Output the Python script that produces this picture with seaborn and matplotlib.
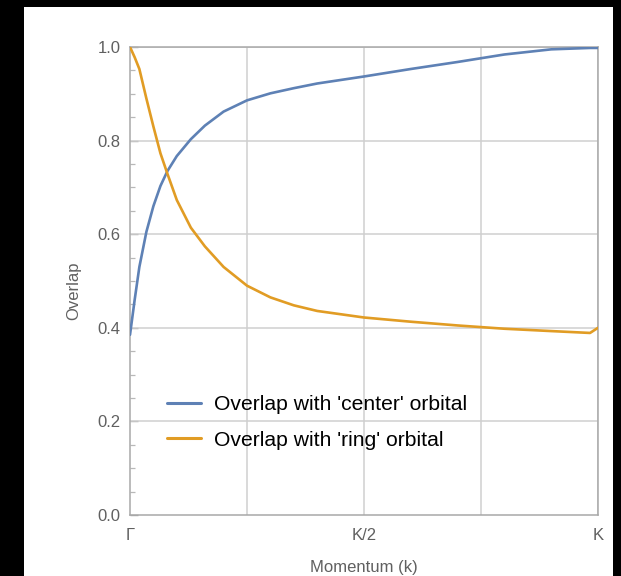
import matplotlib
matplotlib.use("Agg")
import matplotlib.pyplot as plt
from matplotlib.patches import Rectangle
from matplotlib.ticker import MultipleLocator
import pandas as pd
import seaborn as sns

# Momentum along the Γ→K path (fraction of K)
k = [0, 0.01, 0.02, 0.035, 0.05, 0.065, 0.08, 0.10, 0.13, 0.16, 0.20, 0.25,
     0.30, 0.35, 0.40, 0.50, 0.60, 0.70, 0.80, 0.90, 0.983, 1.0]
center_overlap = [0.385, 0.46, 0.53, 0.605, 0.66, 0.703, 0.735, 0.767, 0.803,
                  0.832, 0.862, 0.886, 0.901, 0.912, 0.922, 0.937, 0.953,
                  0.968, 0.984, 0.995, 0.998, 0.998]
ring_overlap = [1.0, 0.978, 0.953, 0.89, 0.83, 0.773, 0.729, 0.673, 0.614, 0.574,
                0.53, 0.49, 0.465, 0.448, 0.436, 0.422, 0.413, 0.405, 0.398,
                0.393, 0.389, 0.40]
series_names = ["Overlap with 'center' orbital", "Overlap with 'ring' orbital"]
x_tick_labels = ["Γ", "K/2", "K"]

df = pd.concat([
    pd.DataFrame({"k": k, "overlap": center_overlap, "series": series_names[0]}),
    pd.DataFrame({"k": k, "overlap": ring_overlap, "series": series_names[1]}),
])

sns.set_theme(style="white")
plt.rcParams["font.family"] = ["Liberation Sans", "DejaVu Sans"]

W, H = 621, 576
fig = plt.figure(figsize=(W / 100, H / 100), dpi=100, facecolor="black")
fig.patches.append(Rectangle((24 / W, 0), 589 / W, 569 / H, transform=fig.transFigure,
                             facecolor="white", edgecolor="none", zorder=-10))

ax = fig.add_axes([130 / W, 61 / H, 468 / W, 468 / H])
ax.set_facecolor("white")

palette = {series_names[0]: "#5E81B5", series_names[1]: "#E19C24"}
sns.lineplot(data=df, x="k", y="overlap", hue="series", palette=palette,
             sort=False, linewidth=1.9, ax=ax, legend=False, zorder=3)

ax.set_xlim(0, 1)
ax.set_ylim(0, 1)

grid_kw = dict(color="#cfcfcf", linewidth=1.1, zorder=1)
for gx in [0.25, 0.5, 0.75, 1.0]:
    ax.axvline(gx, **grid_kw)
for gy in [0.2, 0.4, 0.6, 0.8, 1.0]:
    ax.axhline(gy, **grid_kw)

for side in ["left", "bottom", "top", "right"]:
    ax.spines[side].set_color("#a8a8a8")
    ax.spines[side].set_linewidth(1.1)
    ax.spines[side].set_visible(True)

ax.set_xticks([0, 0.5, 1.0])
ax.set_xticklabels(x_tick_labels)
ax.set_yticks([0.0, 0.2, 0.4, 0.6, 0.8, 1.0])
ax.set_yticklabels([f"{v:.1f}" for v in [0.0, 0.2, 0.4, 0.6, 0.8, 1.0]])
ax.yaxis.set_minor_locator(MultipleLocator(0.05))
ax.tick_params(axis="x", length=0, pad=9, labelsize=12, labelcolor="#606060")
ax.tick_params(axis="y", which="major", direction="in", length=6, width=1,
               color="#a8a8a8", pad=7, labelsize=12, labelcolor="#606060", left=True)
ax.tick_params(axis="y", which="minor", direction="in", length=3.5, width=0.9,
               color="#b8b8b8", left=True)

ax.set_xlabel("Momentum (k)", fontsize=12, color="#606060")
ax.set_ylabel("Overlap", fontsize=12, color="#606060")
ax.xaxis.set_label_coords(0.5, -0.096)
ax.yaxis.set_label_coords(-0.104, 0.479)

handles = [plt.Line2D([], [], color=palette[n], linewidth=2.2) for n in series_names]
leg = ax.legend(handles, series_names, loc="upper left", bbox_to_anchor=(0.078, 0.256),
                frameon=False, fontsize=15.2, handlelength=1.65, handletextpad=0.6,
                labelspacing=0.78, borderpad=0, borderaxespad=0)
for t in leg.get_texts():
    t.set_color("black")

fig.savefig("out.png", dpi=100, facecolor="black")
